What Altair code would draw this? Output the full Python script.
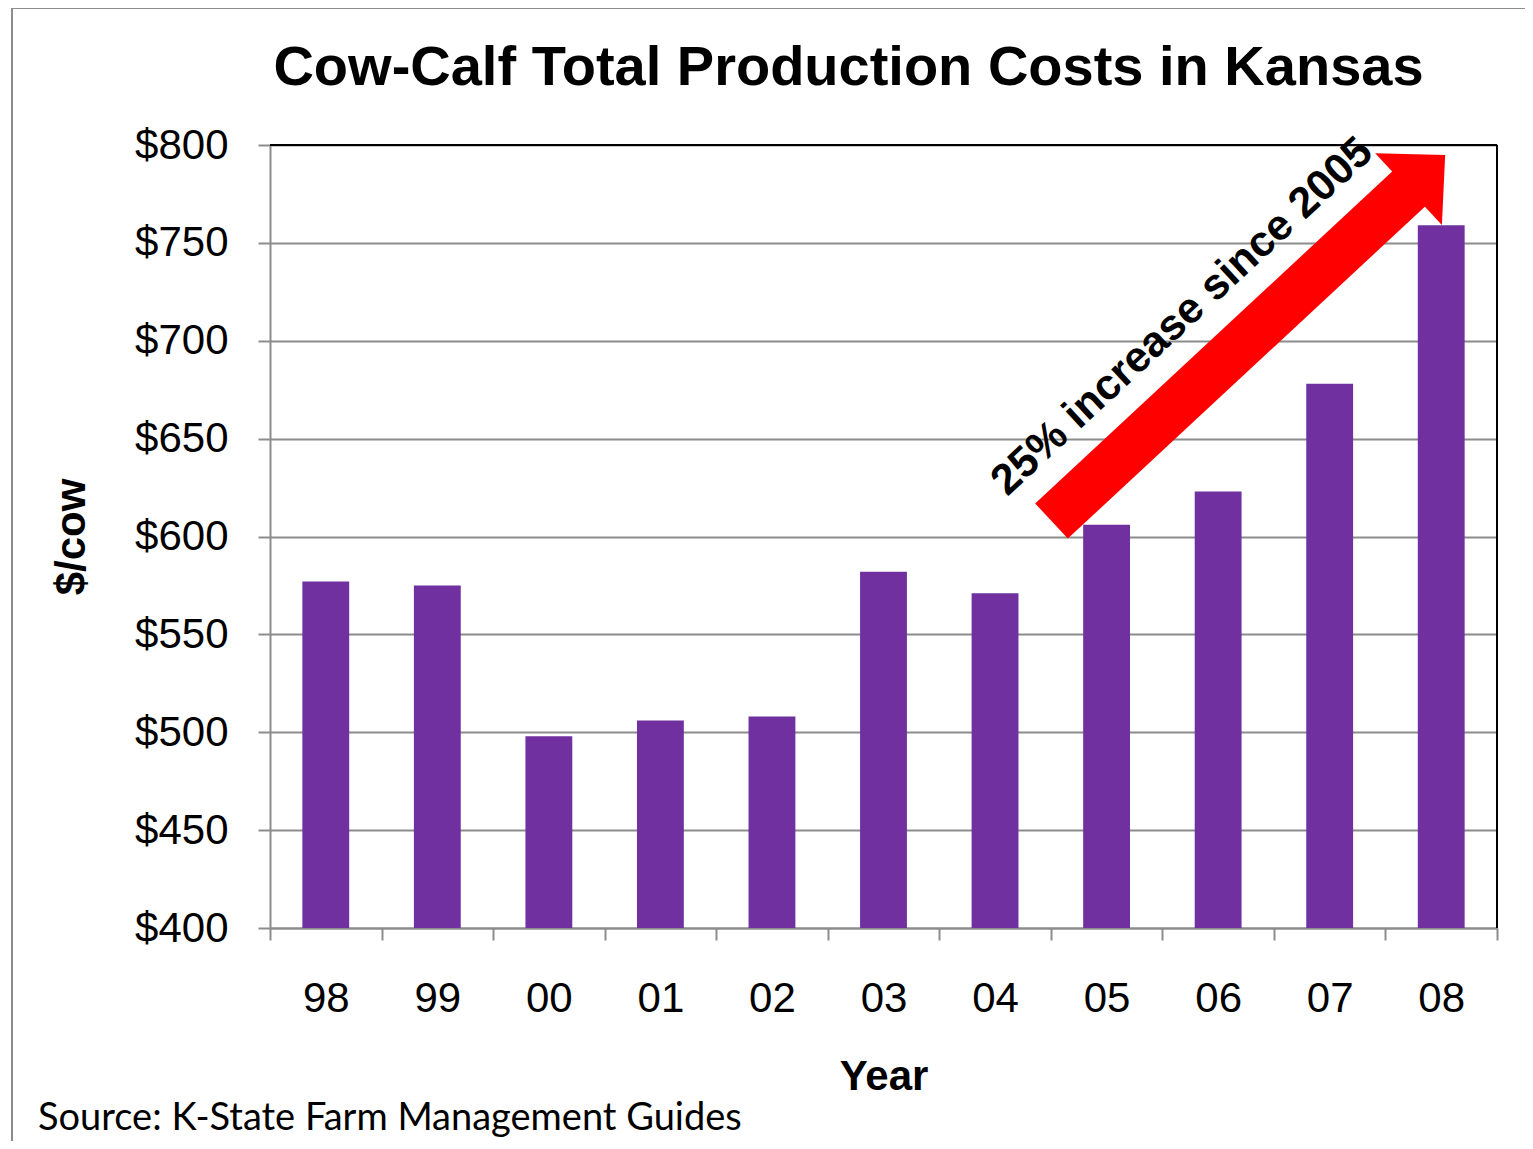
import altair as alt
import pandas as pd

# ---- data ----
years = ["98", "99", "00", "01", "02", "03", "04", "05", "06", "07", "08"]
costs = [577, 575, 498, 506, 508, 582, 571, 606, 623, 678, 759]
y_ticks = [400, 450, 500, 550, 600, 650, 700, 750, 800]

# arrow annotation, in data space (x: 0..11 across the year bands, y: $/cow)
arrow_x = [7.006, 10.238]
arrow_y = [607.9, 779.1]
head_x = [10.207]
head_y = [777.5]
note_x = [8.257]
note_y = [707.5]
note_text = ["25% increase since 2005"]

title_text = "Cow-Calf Total Production Costs in Kansas"
source_text = ["Source: K-State Farm Management  Guides"]

W, H = 1227, 783
FONT = "Liberation Sans"
GRAY = "#8c8c8c"

df = pd.DataFrame({"year": years, "cost": costs})
arrow_df = pd.DataFrame({"pos": arrow_x, "cost": arrow_y})
head_df = pd.DataFrame({"pos": head_x, "cost": head_y})
note_df = pd.DataFrame({"pos": note_x, "cost": note_y, "label": note_text})
src_df = pd.DataFrame({"label": source_text})
one = pd.DataFrame({"k": [0]})

yscale = alt.Scale(domain=[400, 800], nice=False, zero=False)
xq = alt.Scale(domain=[0, 11], nice=False, zero=False)
yaxis = alt.Axis(
    title="$/cow", values=y_ticks, labelExpr="'$' + datum.value",
    labelFontSize=42, labelFont=FONT, labelColor="black", labelPadding=30,
    tickSize=12, tickColor=GRAY, tickWidth=2,
    domainColor=GRAY, domainWidth=2,
    grid=True, gridColor=GRAY, gridWidth=2,
    titleFontSize=42, titleFont=FONT, titleFontWeight="bold", titleColor="black",
    titlePadding=41,
)

bars = alt.Chart(df).mark_bar(color="#7030A0", width={"band": 0.42}, clip=True).encode(
    x=alt.X("year:N", sort=years,
            scale=alt.Scale(paddingInner=0, paddingOuter=0),
            axis=alt.Axis(title="Year", tickBand="extent", labelAngle=0,
                          labelFontSize=42, labelFont=FONT, labelColor="black",
                          labelPadding=38, tickSize=12, tickColor=GRAY, tickWidth=2,
                          domainColor=GRAY, domainWidth=2, grid=False,
                          titleFontSize=42, titleFont=FONT, titleFontWeight="bold",
                          titleColor="black", titlePadding=37)),
    y=alt.Y("cost:Q", scale=yscale, axis=yaxis),
    y2=alt.Y2(datum=400),
)

top_border = alt.Chart(one).mark_rule(color="black", strokeWidth=2).encode(
    y=alt.Y(datum=800, type="quantitative", scale=yscale, axis=yaxis)
)
right_border = alt.Chart(one).mark_rule(color="black", strokeWidth=2).encode(
    x=alt.X(datum=11, type="quantitative", scale=xq, axis=None),
    y=alt.Y(datum=400, type="quantitative", scale=yscale, axis=yaxis),
    y2=alt.Y2(datum=800),
)

shaft = alt.Chart(arrow_df).mark_line(color="#ff0000", strokeWidth=48, strokeCap="butt").encode(
    x=alt.X("pos:Q", scale=xq, axis=None),
    y=alt.Y("cost:Q", scale=yscale, axis=yaxis),
)
head = alt.Chart(head_df).mark_point(
    shape="M -1 0 L 0 -1.02 L 1 0 Z", size=98 * 98, angle=47.1,
    filled=True, color="#ff0000", opacity=1, strokeWidth=0,
).encode(
    x=alt.X("pos:Q", scale=xq, axis=None),
    y=alt.Y("cost:Q", scale=yscale, axis=yaxis),
)
note = alt.Chart(note_df).mark_text(
    angle=317.1, fontSize=43, fontWeight="bold", font=FONT, color="black",
    align="center", baseline="alphabetic",
).encode(
    x=alt.X("pos:Q", scale=xq, axis=None),
    y=alt.Y("cost:Q", scale=yscale, axis=yaxis),
    text="label:N",
)

source = alt.Chart(src_df).mark_text(
    fontSize=38, font="Lato", color="black", align="left", baseline="alphabetic",
).encode(x=alt.value(-232), y=alt.value(985), text="label:N")

frame_left = alt.Chart(one).mark_rule(color=GRAY, strokeWidth=2).encode(
    x=alt.value(-258), y=alt.value(-137), y2=alt.value(1000)
)
frame_top = alt.Chart(one).mark_rule(color=GRAY, strokeWidth=2).encode(
    x=alt.value(-258), x2=alt.value(1300), y=alt.value(-137)
)

chart = alt.layer(
    bars, top_border, right_border, shaft, head, note, source, frame_left, frame_top
).resolve_scale(x="independent").properties(
    width=W, height=H,
    title=alt.TitleParams(title_text, fontSize=56, font=FONT, fontWeight="bold",
                          color="black", anchor="middle", dx=-35, offset=-90),
    autosize=alt.AutoSizeParams(type="none"),
    padding={"left": 262, "top": 137, "right": 28, "bottom": 213},
).configure_view(stroke=None)

chart.save("out.html", embed_options={"renderer": "svg", "actions": False})
